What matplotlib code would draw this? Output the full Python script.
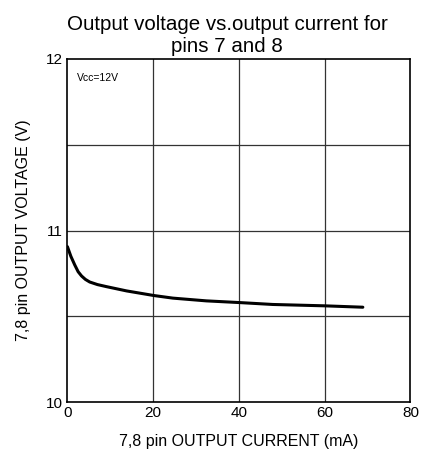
import matplotlib
matplotlib.use("Agg")
import matplotlib.pyplot as plt

plt.rcParams['font.family'] = ['Liberation Sans', 'DejaVu Sans']

# output current (mA) and voltage (V)
current = [0, 0.8, 1.7, 2.5, 3.3, 4.2, 5.2, 7.0, 9.1, 13.8, 20.2, 24.6, 32.4, 40.2, 47.9, 60.1, 68.9]
voltage = [10.906, 10.85, 10.80, 10.76, 10.735, 10.715, 10.70, 10.685, 10.673, 10.648, 10.621, 10.606, 10.59, 10.58, 10.569, 10.561, 10.553]

xticks = [0, 20, 40, 60, 80]
yticks = [10, 11, 12]
xgrid = [20, 40, 60]
ygrid = [10.5, 11, 11.5]

fig = plt.figure(figsize=(4.24, 4.59), dpi=100)
ax = fig.add_axes([0.159, 0.124, 0.809, 0.7475])

for g in xgrid:
    ax.axvline(g, color='#333333', linewidth=0.9)
for g in ygrid:
    ax.axhline(g, color='#333333', linewidth=0.9)

ax.plot(current, voltage, color='black', linewidth=2.2, solid_capstyle='round')

ax.set_xlim(0, 80)
ax.set_ylim(10, 12)
ax.set_xticks(xticks)
ax.set_yticks(yticks)
ax.tick_params(which='both', length=0, labelsize=11, pad=3)
for s in ax.spines.values():
    s.set_linewidth(1.2)

ax.text(2.2, 11.87, 'Vcc=12V', fontsize=7.5)

ax.set_xlabel('7,8 pin OUTPUT CURRENT (mA)', fontsize=11.5, labelpad=10)
ax.set_ylabel('7,8 pin OUTPUT VOLTAGE (V)', fontsize=11.5, labelpad=11)
ax.set_title('Output voltage vs.output current for\npins 7 and 8', fontsize=14.8, pad=5,
             linespacing=1.2, x=0.466)

fig.savefig('out.png', dpi=100)
